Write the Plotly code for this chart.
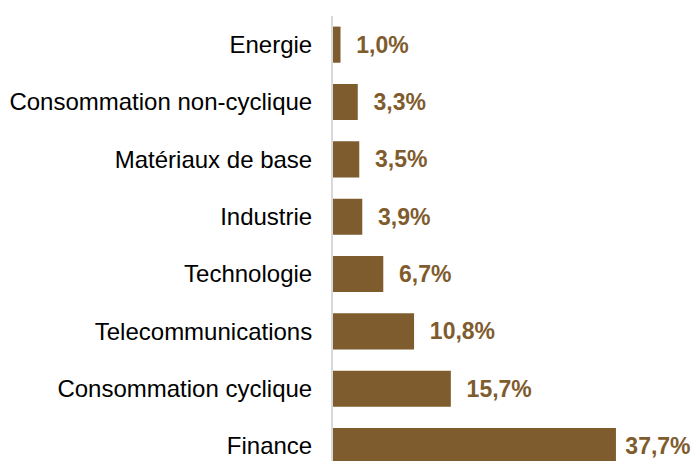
import plotly.graph_objects as go

categories = ["Energie", "Consommation non-cyclique", "Matériaux de base", "Industrie",
              "Technologie", "Telecommunications", "Consommation cyclique", "Finance"]
values = [1.0, 3.3, 3.5, 3.9, 6.7, 10.8, 15.7, 37.7]
label_pad = [2, 2, 2, 2, 2, 2, 2, 1]

labels = ["\u00a0" * p + f"{v:.1f}".replace(".", ",") + "%" for v, p in zip(values, label_pad)]

BROWN = "#7F5C2E"

fig = go.Figure(go.Bar(
    y=categories, x=values, orientation="h",
    marker=dict(color=BROWN, line=dict(width=0)),
    width=0.63,
    text=labels, textposition="outside", constraintext="none", cliponaxis=False,
    textfont=dict(family="Liberation Sans, Arial", size=23, color=BROWN, weight="bold"),
    hoverinfo="skip",
))

fig.update_layout(
    width=691, height=461,
    margin=dict(l=333, r=0, t=16, b=0, autoexpand=False),
    paper_bgcolor="white", plot_bgcolor="white",
    showlegend=False,
    font=dict(family="Liberation Sans, Arial", size=24, color="#000000"),
    xaxis=dict(range=[0, 47.7], visible=False, fixedrange=True, automargin=False),
    yaxis=dict(
        categoryorder="array", categoryarray=categories,
        range=[7.26, -0.5], automargin=False, fixedrange=True,
        showline=True, linecolor="#D9D9D9", linewidth=2,
        showgrid=False, zeroline=False,
        ticks="outside", ticklen=14, tickcolor="rgba(0,0,0,0)",
        tickfont=dict(size=24, color="#000000"),
    ),
)

fig.write_html(
    "out.html",
    config={"displayModeBar": False},
    post_script="document.body.style.margin='0';document.body.style.overflow='hidden';",
)
